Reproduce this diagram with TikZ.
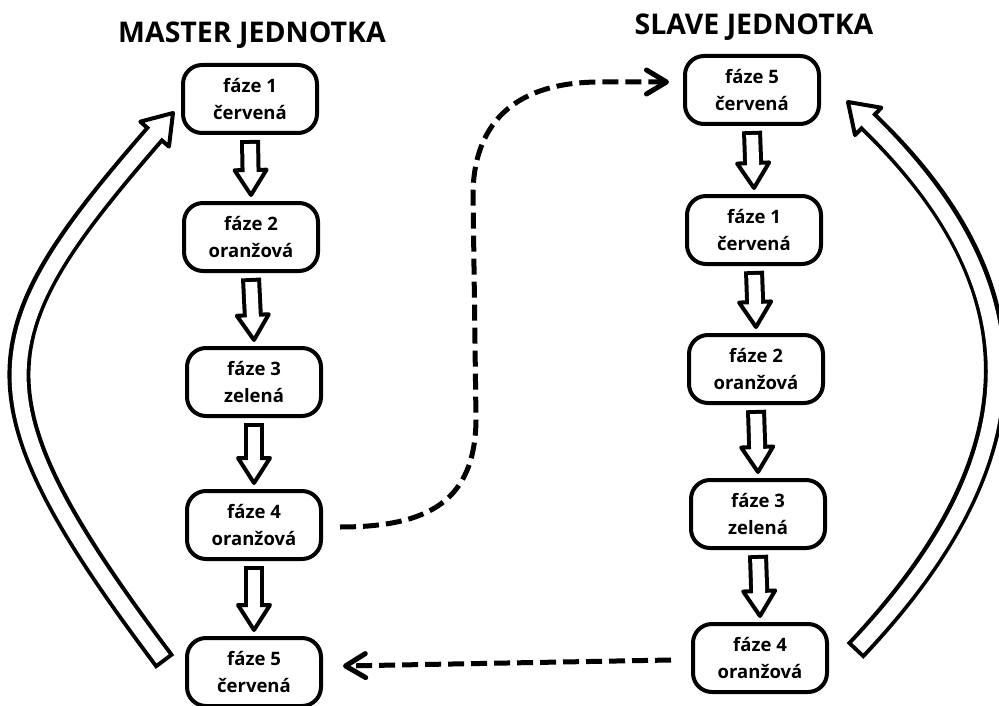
\documentclass[tikz,border=0pt]{standalone}
\usepackage{fontspec}
\setmainfont{Open Sans}
\usetikzlibrary{calc,arrows.meta}
\tikzset{
  phase/.style={draw, line width=4pt, rounded corners=19pt, minimum width=134pt,
    minimum height=68pt, inner sep=0pt, align=center,
    font=\fontsize{18.5}{27}\selectfont\bfseries},
  title/.style={font=\fontsize{28.5}{34}\selectfont\bfseries},
  link/.style={line width=5pt, dash pattern=on 16pt off 7pt,
    -{Straight Barb[length=20pt,width=24pt,line cap=round,line join=round]}}
}
% #1 path, #2 back point, #3 tip, #4 outer width, #5 inner width, #6 half head width
\newcommand\hollowarrow[6]{%
  \draw[line width=#4] #1;
  \draw[line width=4pt, fill=white, line join=round]
    (#3) -- ($(#2)!#6!90:(#3)$) -- ($(#2)!#6!-90:(#3)$) -- cycle;
  \draw[white, line width=#5, shorten <=4pt, shorten >=-6pt] #1;
}
\begin{document}
\begin{tikzpicture}[x=1pt,y=-1pt]
\useasboundingbox (0,0) rectangle (999,706);
\fill[white] (0,0) rectangle (999,706);

% titles
\node[title] (tm) at (252,35) {MASTER JEDNOTKA};
\node[title] (ts) at (754,27) {SLAVE JEDNOTKA};

% master column
\node[phase] (m1) at (250,99)  {fáze 1\\červená};
\node[phase] (m2) at (251,237) {fáze 2\\oranžová};
\node[phase] (m3) at (254,382) {fáze 3\\zelená};
\node[phase] (m4) at (254,525) {fáze 4\\oranžová};
\node[phase] (m5) at (254,672) {fáze 5\\červená};

% slave column
\node[phase] (s5) at (752,90)  {fáze 5\\červená};
\node[phase] (s1) at (754,230) {fáze 1\\červená};
\node[phase] (s2) at (756,369) {fáze 2\\oranžová};
\node[phase] (s3) at (758,514) {fáze 3\\zelená};
\node[phase] (s4) at (760,658) {fáze 4\\oranžová};

% block arrows between phases
\foreach \a/\b in {m1/m2, m2/m3, m3/m4, m4/m5, s5/s1, s1/s2, s2/s3, s3/s4}{
  \coordinate (\a S) at ($(\a.south)+(0,5)$);
  \coordinate (\a T) at ($(\b.north)+(0,-6)$);
  \coordinate (\a B) at ($(\a T)!25pt!(\a S)$);
  \hollowarrow{(\a S) -- (\a B)}{\a B}{\a T}{20pt}{12pt}{16pt}
}

% big curved return arrow, master
\coordinate (lS) at ($(m5.west)+(-20,-10)$);
\coordinate (lT) at ($(m1.west)+(-8,14)$);
\coordinate (lP1) at (-36,394);
\coordinate (lP2) at (-20,335);
\coordinate (lB) at ($(lT)!28pt!(lP2)$);
\hollowarrow{(lS) .. controls (lP1) and (lP2) .. (lB)}{lB}{lT}{23pt}{15pt}{19pt}

% big curved return arrow, slave
\coordinate (rS) at ($(s4.east)+(26,-7)$);
\coordinate (rT) at ($(s5.east)+(27,12)$);
\coordinate (rP1) at (1050,445);
\coordinate (rP2) at (1030,277);
\coordinate (rB) at ($(rT)!28pt!(rP2)$);
\hollowarrow{(rS) .. controls (rP1) and (rP2) .. (rB)}{rB}{rT}{23pt}{15pt}{19pt}

% dashed links
\coordinate (d1s) at ($(m4.east)+(17,2)$);
\coordinate (d1t) at ($(s5.west)+(-14,-8)$);
\draw[link] (d1s) .. controls (430,527) and (475,500) .. (476,420)
  -- (473,190) .. controls (476,110) and (530,82) .. (600,82) -- (d1t);

\coordinate (d2s) at ($(s4.west)+(-20,2)$);
\coordinate (d2t) at ($(m5.east)+(20,-6)$);
\draw[link] (d2s) -- (d2t);
\end{tikzpicture}
\end{document}
